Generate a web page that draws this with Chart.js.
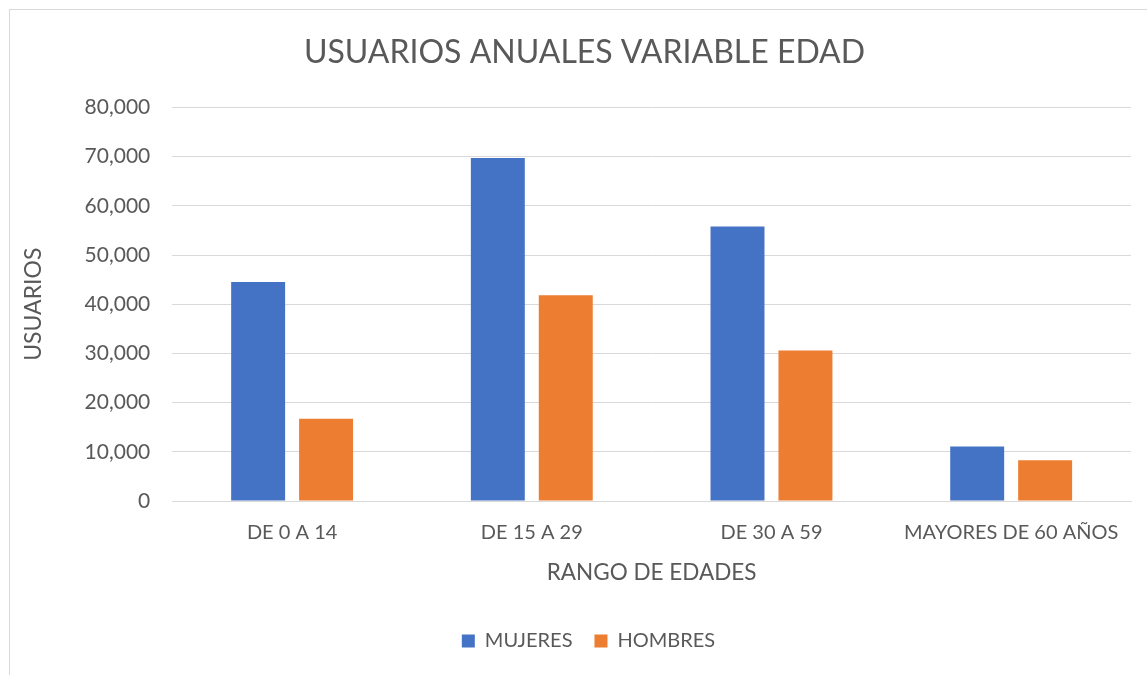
<!DOCTYPE html>
<html>
<head>
<meta charset="utf-8">
<script src="https://cdn.jsdelivr.net/npm/chart.js@4"></script>
<style>
  html, body { margin: 0; padding: 0; background: #fff; }
  #frame { position: absolute; left: 9px; top: 9px; width: 1150px; height: 680px; border: 1px solid #d9d9d9; }
  #wrap { position: absolute; left: 0; top: 0; width: 1147px; height: 675px; }
</style>
</head>
<body>
<div id="frame"></div>
<div id="wrap"><canvas id="chart"></canvas></div>
<script>
const categories = ["DE 0 A 14", "DE 15 A 29", "DE 30 A 59", "MAYORES DE 60 AÑOS"];
const mujeres = [44500, 69700, 55800, 11100];
const hombres = [16700, 41800, 30600, 8300];
const yTicks = [0, 10000, 20000, 30000, 40000, 50000, 60000, 70000, 80000];

const textColor = '#595959';
const fontFamily = 'Lato, "Liberation Sans", sans-serif';

// nudge title and legend a bit right, like the original
const blockShift = {
    id: 'blockShift',
    afterLayout(chart) {
        const t = chart.titleBlock;
        t.left += 9;
        t.right += 9;
        const l = chart.legend;
        l.left += 13;
        l.right += 13;
    }
};

window.addEventListener("DOMContentLoaded", () => {
    const ctx = document.getElementById('chart');
    const config = {
        type: 'bar',
        data: {
            labels: categories,
            datasets: [{
                label: 'MUJERES',
                data: mujeres,
                backgroundColor: '#4472c4'
            }, {
                label: 'HOMBRES',
                data: hombres,
                backgroundColor: '#ed7d31'
            }]
        },
        options: {
            responsive: true,
            maintainAspectRatio: false,
            animation: false,
            categoryPercentage: 0.567,
            barPercentage: 0.794,
            layout: {
                padding: { left: 20, right: 16, top: 22, bottom: 14 }
            },
            plugins: {
                title: {
                    display: true,
                    text: 'USUARIOS ANUALES VARIABLE EDAD',
                    color: textColor,
                    font: { family: fontFamily, size: 32, weight: 'normal' },
                    padding: { top: 11, bottom: 36 }
                },
                legend: {
                    position: 'bottom',
                    labels: {
                        color: textColor,
                        font: { family: fontFamily, size: 20 },
                        boxWidth: 13,
                        boxHeight: 13,
                        padding: 22
                    }
                },
                tooltip: { enabled: false }
            },
            scales: {
                x: {
                    grid: { display: false },
                    border: { color: '#d9d9d9', width: 1 },
                    ticks: {
                        color: textColor,
                        font: { family: fontFamily, size: 20 },
                        maxRotation: 0,
                        padding: 12
                    },
                    title: {
                        display: true,
                        text: 'RANGO DE EDADES',
                        color: textColor,
                        font: { family: fontFamily, size: 22.5 },
                        padding: { top: 2, bottom: 23 }
                    }
                },
                y: {
                    min: 0,
                    max: 80000,
                    afterBuildTicks: axis => {
                        axis.ticks = yTicks.map(v => ({ value: v }));
                    },
                    grid: { color: '#d9d9d9', lineWidth: 1, drawTicks: false },
                    border: { display: false },
                    ticks: {
                        color: textColor,
                        font: { family: fontFamily, size: 21 },
                        padding: 22,
                        callback: v => v.toLocaleString('en-US')
                    },
                    title: {
                        display: true,
                        text: 'USUARIOS',
                        color: textColor,
                        font: { family: fontFamily, size: 23 },
                        padding: { top: 0, bottom: 15 }
                    }
                }
            }
        },
        plugins: [blockShift]
    };
    new Chart(ctx, config);
});
</script>
</body>
</html>
